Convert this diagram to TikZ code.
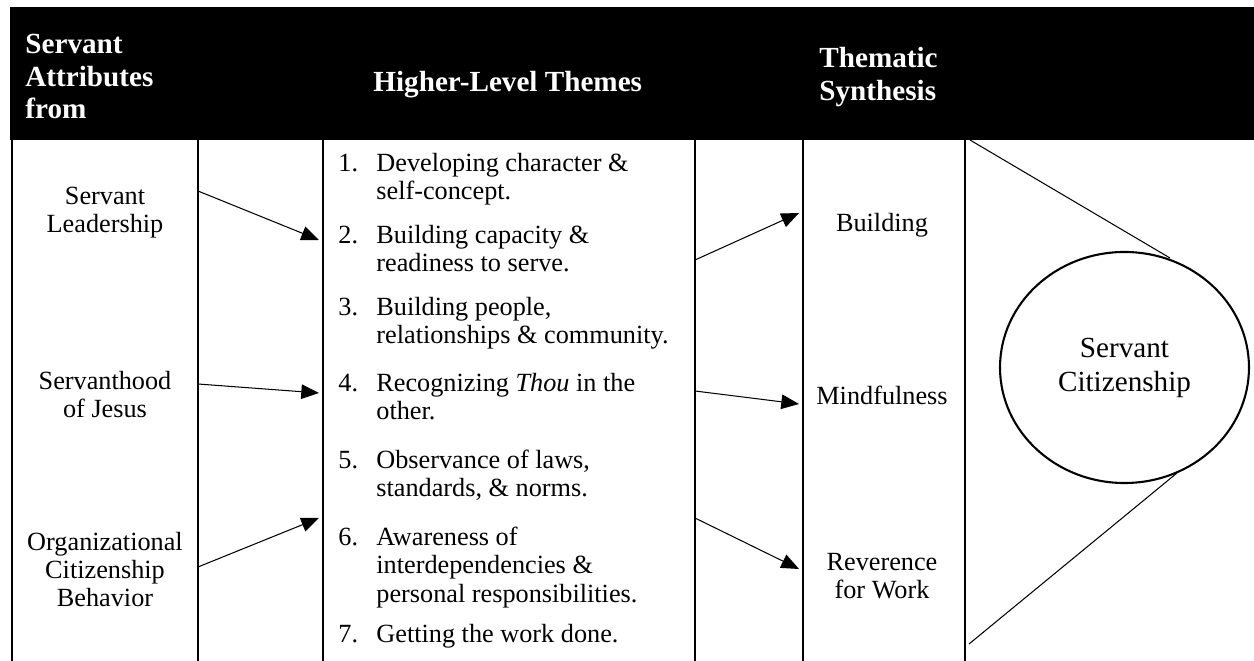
\documentclass[tikz,border=0pt]{standalone}
\usepackage{fontspec}
\setmainfont{Liberation Serif}
\usetikzlibrary{arrows.meta,shapes.geometric}
\begin{document}
\begin{tikzpicture}[x=0.48pt,y=-0.48pt,
        colline/.style={line width=1pt},
        arr/.style={line width=0.5pt,-{Triangle[length=8.5pt,width=7pt]}},
        hdr/.style={text=white,font=\fontsize{14}{15.8}\selectfont\bfseries,align=left,inner sep=0pt},
        txt/.style={font=\fontsize{12.6}{13.44}\selectfont,align=center,inner sep=0pt},
        itm/.style={font=\fontsize{12.6}{13.44}\selectfont,inner sep=0pt,anchor=base west}]
    \useasboundingbox (0,0) rectangle (1254,661);
    % header bar
    \fill[black] (10,7) rectangle (1254,140);
    \node[hdr,anchor=west] (hsrc) at (25,76.5) {Servant\\Attributes\\from};
    \node[hdr,anchor=base west] (hthm) at (373,92) {Higher-Level Themes};
    \node[hdr,anchor=west] (hsyn) at (819,77) {Thematic\\Synthesis};
    % column rules
    \foreach \x in {12,198,323,695,803,965}
        \draw[colline] (\x,140) -- (\x,661);
    % sources
    \node[txt] (sl) at (105,213) {Servant\\Leadership};
    \node[txt] (sj) at (105,395) {Servanthood\\of Jesus};
    \node[txt] (ocb) at (105,570) {Organizational\\Citizenship\\Behavior};
    % themes
    \foreach \n/\y/\t in {1/172/{Developing character \&\\self-concept.},
                          2/244/{Building capacity \&\\readiness to serve.},
                          3/316/{Building people,\\relationships \& community.},
                          4/392/{Recognizing \textit{Thou} in the\\other.},
                          5/469/{Observance of laws,\\standards, \& norms.},
                          6/546/{Awareness of\\interdependencies \&\\personal responsibilities.},
                          7/643/{Getting the work done.}}{
        \node[itm] (n\n) at (338,\y) {\n.};
        \node[itm] (t\n) at (376,\y) {\parbox[t]{300pt}{\raggedright\t}};
    }
    % synthesis
    \node[txt] (bld) at (882,225) {Building};
    \node[txt] (mnd) at (882,395) {Mindfulness};
    \node[txt] (rev) at (882,576) {Reverence\\for Work};
    % servant citizenship
    \node[draw,ellipse,line width=1pt,minimum width=119.5pt,minimum height=110.9pt,
          inner sep=0pt,align=center,font=\fontsize{14}{16.3}\selectfont] (sc) at (1124.5,367.5) {Servant\\Citizenship};
    % arrow ends
    \coordinate (a1) at (198,191);  \coordinate (b1) at (319,240);
    \coordinate (a2) at (198,384);  \coordinate (b2) at (319,393);
    \coordinate (a3) at (198,567);  \coordinate (b3) at (319,518);
    \coordinate (c1) at (695,260);  \coordinate (d1) at (799,213);
    \coordinate (c2) at (695,391);  \coordinate (d2) at (799,404);
    \coordinate (c3) at (695,518);  \coordinate (d3) at (799,569);
    \draw[arr] (a1) -- (b1);
    \draw[arr] (a2) -- (b2);
    \draw[arr] (a3) -- (b3);
    \draw[arr] (c1) -- (d1);
    \draw[arr] (c2) -- (d2);
    \draw[arr] (c3) -- (d3);
    % funnel
    \coordinate (ftop) at (970,140);  \coordinate (ttop) at (1170,258);
    \coordinate (fbot) at (969,644);  \coordinate (tbot) at (1177,473);
    \draw[line width=0.5pt] (ftop) -- (ttop);
    \draw[line width=0.5pt] (fbot) -- (tbot);
\end{tikzpicture}
\end{document}
